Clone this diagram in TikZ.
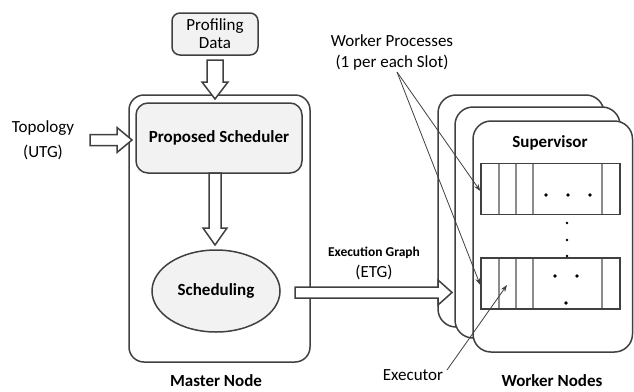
\documentclass[tikz,border=0pt]{standalone}
\usepackage{fontspec}
\setmainfont{Carlito}
\usetikzlibrary{arrows.meta,shapes.geometric}
\definecolor{ln}{HTML}{404040}
\definecolor{lightfill}{HTML}{F2F2F2}
\definecolor{cellln}{HTML}{8C8C8C}
\begin{document}
\begin{tikzpicture}[x=1pt,y=-1pt,
  box/.style={draw=ln,line width=1.5pt},
  blockarrow/.style={draw=ln,fill=white,line width=1.5pt,line join=miter},
  txt/.style={font=\fontsize{17}{21}\selectfont,text=black,align=center,inner sep=0pt},
  btxt/.style={font=\fontsize{17}{21}\selectfont\bfseries,text=black,align=center,inner sep=0pt},
  wnode/.style={draw=ln,fill=white,line width=1.5pt,rounded corners=18pt},
  slotrow/.style={draw=ln,line width=1.5pt,minimum width=139pt,minimum height=51pt,inner sep=0pt},
  cellline/.style={draw=cellln,line width=1.2pt},
  thin/.style={draw=ln,line width=0.8pt,-{Stealth[length=7pt,width=5pt]}},
  dot/.style={fill=black,circle,inner sep=0pt,minimum size=3.6pt}]
\useasboundingbox (0,0) rectangle (634,391);

% master node
\draw[box,rounded corners=15pt] (129,95) rectangle (310,362);
\node[btxt] (mlabel) at (216,381) {Master Node};

% profiling data
\node[box,fill=lightfill,rounded corners=8pt,minimum width=86pt,minimum height=42pt,
      txt,font=\fontsize{17}{18}\selectfont] (pd) at (215,34) {Profiling\\Data};

% proposed scheduler
\node[box,fill=lightfill,rounded corners=12pt,minimum width=166pt,minimum height=70pt,
      btxt] (ps) at (219,138) {Proposed Scheduler};

% scheduling
\node[ellipse,draw=ln,line width=1.5pt,fill=lightfill,minimum width=128pt,minimum height=82pt,
      btxt] (sch) at (216,291) {Scheduling};

% topology
\node[txt,font=\fontsize{17}{25}\selectfont] (topo) at (43,140.5) {Topology\\(UTG)};

% block arrows
\draw[blockarrow] (207,60) -- (223,60) -- (223,82) -- (228,82) -- (215,99) -- (202,82) -- (207,82) -- cycle;
\draw[blockarrow] (209,173) -- (221,173) -- (221,228) -- (227,228) -- (215,245) -- (203,228) -- (209,228) -- cycle;
\draw[blockarrow] (90,134.5) -- (117,134.5) -- (117,127.5) -- (132,140) -- (117,152.5) -- (117,145.5) -- (90,145.5) -- cycle;

% worker nodes
\draw[wnode] (438,95) rectangle (604,327);
\draw[wnode] (455,107) rectangle (620,338);
\draw[wnode] (473,121) rectangle (632.5,352);
\node[btxt] (sup) at (550,143) {Supervisor};
\node[btxt] (wlabel) at (552,381) {Worker Nodes};

% ETG arrow
\draw[blockarrow] (295,287) -- (438,287) -- (438,280) -- (452,292.5) -- (438,305) -- (438,298) -- (295,298) -- cycle;
\node[btxt,font=\fontsize{13.5}{16}\selectfont\bfseries] (etg1) at (374,253) {Execution Graph};
\node[txt] (etg2) at (374,272) {(ETG)};

% slot rows
\node[slotrow] (row1) at (550.5,189) {};
\node[slotrow] (row2) at (550.5,283.5) {};
\foreach \x in {499,516,533,602}{
  \draw[cellline] (\x,164) -- (\x,214);
  \draw[cellline] (\x,259) -- (\x,308);
}
\node[dot] (d1) at (546,195) {};
\node[dot] (d2) at (568,195) {};
\node[dot] (d3) at (590,195) {};
\node[dot,minimum size=2.6pt] (v1) at (567,223) {};
\node[dot,minimum size=2.6pt] (v2) at (567,240) {};
\node[dot,minimum size=2.6pt] (v3) at (567,256) {};
\node[dot] (d4) at (555,276) {};
\node[dot] (d5) at (577,276) {};
\node[dot] (d6) at (566,303) {};

% worker processes label and arrows
\node[txt] (wp) at (392,52.5) {Worker Processes\\(1 per each Slot)};
\coordinate (wpfrom) at (397,72);
\draw[thin] (wpfrom) -- ([yshift=-2pt]row1.west);
\draw[thin] (wpfrom) -- ([yshift=-1.5pt]row2.west);

% executor
\node[txt] (exec) at (413,375) {Executor};
\coordinate (exfrom) at (447,370);
\coordinate (exto) at (507,285);
\draw[thin] (exfrom) -- (exto);
\end{tikzpicture}
\end{document}
